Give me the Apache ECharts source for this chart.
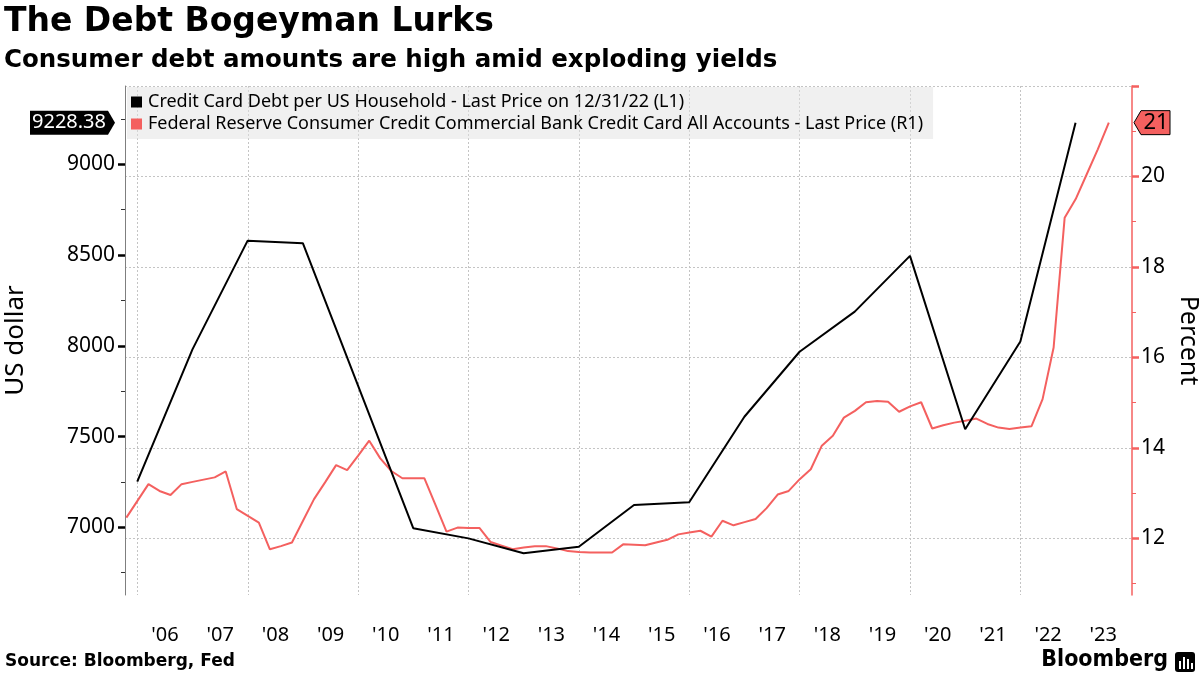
<!DOCTYPE html>
<html><head><meta charset="utf-8">
<script src="https://cdn.jsdelivr.net/npm/echarts@6/dist/echarts.min.js"></script>
<style>html,body{margin:0;padding:0;background:#fff}#c{width:1200px;height:675px}</style>
</head><body><div id="c"></div>
<script>
// ---- data ----
const yearLabels = ["'06","'07","'08","'09","'10","'11","'12","'13","'14","'15","'16","'17","'18","'19","'20","'21","'22","'23"];
const debtDates = ['2005-12-31','2006-12-31','2007-12-31','2008-12-31','2009-12-31','2010-12-31','2011-12-31','2012-12-31','2013-12-31','2014-12-31','2015-12-31','2016-12-31','2017-12-31','2018-12-31','2019-12-31','2020-12-31','2021-12-31','2022-12-31'];
const debtValues = [7251,7980,8579,8565,7780,6995,6939,6857,6893,7123,7138,7609,7967,8188,8495,7540,8023,9228.38];
const rateTimes = [2005.8,2006.0,2006.2,2006.4,2006.6,2006.8,
 2007.0,2007.2,2007.4,2007.6,2007.8,
 2008.0,2008.2,2008.4,2008.6,2008.8,
 2009.0,2009.2,2009.4,2009.6,2009.8,
 2010.0,2010.2,2010.4,2010.6,2010.8,
 2011.0,2011.2,2011.4,2011.6,2011.8,
 2012.0,2012.2,2012.4,2012.6,2012.8,
 2013.0,2013.2,2013.4,2013.6,2013.8,
 2014.0,2014.2,2014.4,2014.6,2014.8,
 2015.0,2015.2,2015.4,2015.6,2015.8,
 2016.0,2016.2,2016.4,2016.6,2016.8,
 2017.0,2017.2,2017.4,2017.6,2017.8,
 2018.0,2018.2,2018.4,2018.6,2018.8,
 2019.0,2019.2,2019.4,2019.6,2019.8,
 2020.0,2020.2,2020.4,2020.6,2020.8,
 2021.0,2021.2,2021.4,2021.6,2021.8,
 2022.0,2022.2,2022.4,2022.6,2022.8,
 2023.0,2023.2,2023.4,2023.6];
const rateValues = [12.46,12.83,13.20,13.05,12.96,13.20,
 13.25,13.30,13.35,13.48,12.65,
 12.50,12.35,11.76,11.83,11.91,
 12.39,12.87,13.24,13.62,13.51,
 13.83,14.16,13.77,13.49,13.33,
 13.33,13.33,12.74,12.15,12.24,
 12.23,12.23,11.92,11.84,11.76,
 11.80,11.83,11.83,11.78,11.72,
 11.70,11.69,11.69,11.69,11.87,
 11.86,11.85,11.91,11.97,12.09,
 12.13,12.17,12.04,12.39,12.29,
 12.36,12.43,12.67,12.97,13.05,
 13.31,13.53,14.05,14.27,14.67,
 14.82,15.01,15.04,15.02,14.80,
 14.92,15.01,14.43,14.50,14.56,
 14.60,14.65,14.53,14.45,14.42,
 14.45,14.48,15.08,16.22,19.09,
 19.50,20.05,20.60,21.19];
const leftLabels = [7000,7500,8000,8500,9000];
const leftMinor = [6750,7250,7750,8250,8750,9250];
const rightLabels = [12,14,16,18,20];
const rightMajor = [12,14,16,18,20,22];
const rightMinor = [11,13,15,17,19,21];
const gridYears = [2006,2008,2010,2012,2014,2016,2018,2020,2022];
const debtName = 'Credit Card Debt per US Household - Last Price on 12/31/22 (L1)';
const rateName = 'Federal Reserve Consumer Credit Commercial Bank Credit Card All Accounts - Last Price (R1)';

// ---- helpers ----
function toDec(s){const d=new Date(s+'T00:00:00Z');const y=d.getUTCFullYear();const a=Date.UTC(y,0,1),b=Date.UTC(y+1,0,1);return y+(d-a)/(b-a);}
const RED = '#f4605f';
const FONT = '"Noto Sans", sans-serif';
const labelPos = yearLabels.map(l => 2000 + parseInt(l.slice(1),10) + 0.5);
const debtData = debtDates.map((d,i)=>[toDec(d), debtValues[i]]);
const rateData = rateTimes.map((t,i)=>[t, rateValues[i]]);

const LMIN=6627, LMAX=9431, RMIN=10.75, RMAX=22;

const chart = echarts.init(document.getElementById('c'), null, {renderer:'canvas'});
const option = {
  animation:false,
  backgroundColor:'#fff',
  grid:{left:125, right:68, top:86, bottom:80, containLabel:false, outerBoundsMode:'none'},
  legend:{
    orient:'vertical', left:127, top:87, icon:'rect', itemWidth:11, itemHeight:11, itemGap:4,
    backgroundColor:'rgba(225,225,225,0.5)', padding:[6,10,6,4],
    textStyle:{fontSize:18, color:'#000', fontFamily:FONT, padding:[0,0,0,1]},
    data:[debtName, rateName]
  },
  xAxis:{
    type:'value', min:2005.775, max:2024.02,
    axisLine:{show:false},
    axisTick:{show:false, customValues:gridYears},
    splitLine:{show:true, lineStyle:{color:'#c4c4c4', type:[2,2], width:1}},
    axisLabel:{customValues:labelPos, formatter:v=>"'"+String(Math.floor(v)).slice(2),
      fontSize:20, color:'#000', margin:30, fontFamily:FONT}
  },
  yAxis:[
    {type:'value', position:'left', min:LMIN, max:LMAX,
     axisLine:{show:true, lineStyle:{color:'#7f7f7f', width:1}},
     axisTick:{show:true, customValues:leftLabels, length:7, lineStyle:{color:'#000', width:2.5}},
     axisLabel:{customValues:leftLabels, formatter:v=>String(v), fontSize:21, color:'#000', margin:10, fontFamily:FONT},
     splitLine:{show:false},
     name:'US dollar', nameLocation:'middle', nameRotate:90, nameGap:96,
     nameTextStyle:{fontSize:26, color:'#000', fontFamily:FONT}},
    {type:'value', position:'right', min:RMIN, max:RMAX,
     axisLine:{show:true, lineStyle:{color:RED, width:1.5}},
     axisTick:{show:true, customValues:rightMajor, length:7, lineStyle:{color:RED, width:2.5}},
     axisLabel:{customValues:rightLabels, fontSize:21, color:'#000', margin:9, fontFamily:FONT},
     splitLine:{show:true, lineStyle:{color:'#c4c4c4', type:[2,2], width:1}},
     name:'Percent', nameLocation:'middle', nameRotate:-90, nameGap:43,
     nameTextStyle:{fontSize:25, color:'#000', fontFamily:FONT}},
    {type:'value', position:'left', min:LMIN, max:LMAX,
     axisLine:{show:false}, axisLabel:{show:false}, splitLine:{show:false},
     axisTick:{show:true, customValues:leftMinor, length:4, lineStyle:{color:'#333', width:1}}},
    {type:'value', position:'right', min:RMIN, max:RMAX,
     axisLine:{show:false}, axisLabel:{show:false}, splitLine:{show:false},
     axisTick:{show:true, customValues:rightMinor, length:4, lineStyle:{color:RED, width:1}}}
  ],
  series:[
    {name:debtName, type:'line', yAxisIndex:0, data:debtData, symbol:'none', z:4,
     lineStyle:{color:'#000', width:2}, itemStyle:{color:'#000'}},
    {name:rateName, type:'line', yAxisIndex:1, data:rateData, symbol:'none', z:3,
     lineStyle:{color:RED, width:2}, itemStyle:{color:RED}}
  ]
};
chart.setOption(option);

// last-value tags positioned through the axes' scales
const lastDebt = debtValues[debtValues.length-1];
const lastRate = rateValues[rateValues.length-1];
const yL = chart.convertToPixel({yAxisIndex:0}, lastDebt);
const yR = chart.convertToPixel({yAxisIndex:1}, lastRate);
const h = 12;
chart.setOption({
  graphic:[
    {type:'text', left:4, top:6, style:{text:'The Debt Bogeyman Lurks', font:'bold 33px "DejaVu Sans"', fill:'#000'}},
    {type:'text', left:4, top:48, style:{text:'Consumer debt amounts are high amid exploding yields', font:'bold 24.5px "DejaVu Sans"', fill:'#000'}},
    {type:'text', left:5, top:653, style:{text:'Source: Bloomberg, Fed', font:'bold 17px "DejaVu Sans"', fill:'#000'}},
    {type:'text', right:32, top:649, style:{text:'Bloomberg', font:'bold 23px "DejaVu Sans Condensed", "DejaVu Sans"', fill:'#000'}},
    {type:'rect', shape:{x:1175, y:652, width:20, height:20, r:3}, style:{fill:'#000'}},
    {type:'rect', shape:{x:1179, y:661, width:2, height:8}, style:{fill:'#fff'}},
    {type:'rect', shape:{x:1183, y:657, width:2, height:12}, style:{fill:'#fff'}},
    {type:'rect', shape:{x:1187, y:659, width:2, height:10}, style:{fill:'#fff'}},
    {type:'rect', shape:{x:1191, y:663, width:2, height:6}, style:{fill:'#fff'}},
    {type:'polygon', shape:{points:[[30,yL-h],[108,yL-h],[115,yL],[108,yL+h],[30,yL+h]]}, style:{fill:'#000'}},
    {type:'text', x:69, y:yL, style:{text:lastDebt.toFixed(2), font:'20px "Noto Sans"', fill:'#fff', align:'center', verticalAlign:'middle'}},
    {type:'polygon', shape:{points:[[1134,yR],[1141,yR-h],[1170,yR-h],[1170,yR+h],[1141,yR+h]]}, style:{fill:RED, stroke:'#000', lineWidth:1}},
    {type:'text', x:1156, y:yR, style:{text:String(Math.round(lastRate)), font:'22px "Noto Sans"', fill:'#000', align:'center', verticalAlign:'middle'}}
  ]
});
</script></body></html>
